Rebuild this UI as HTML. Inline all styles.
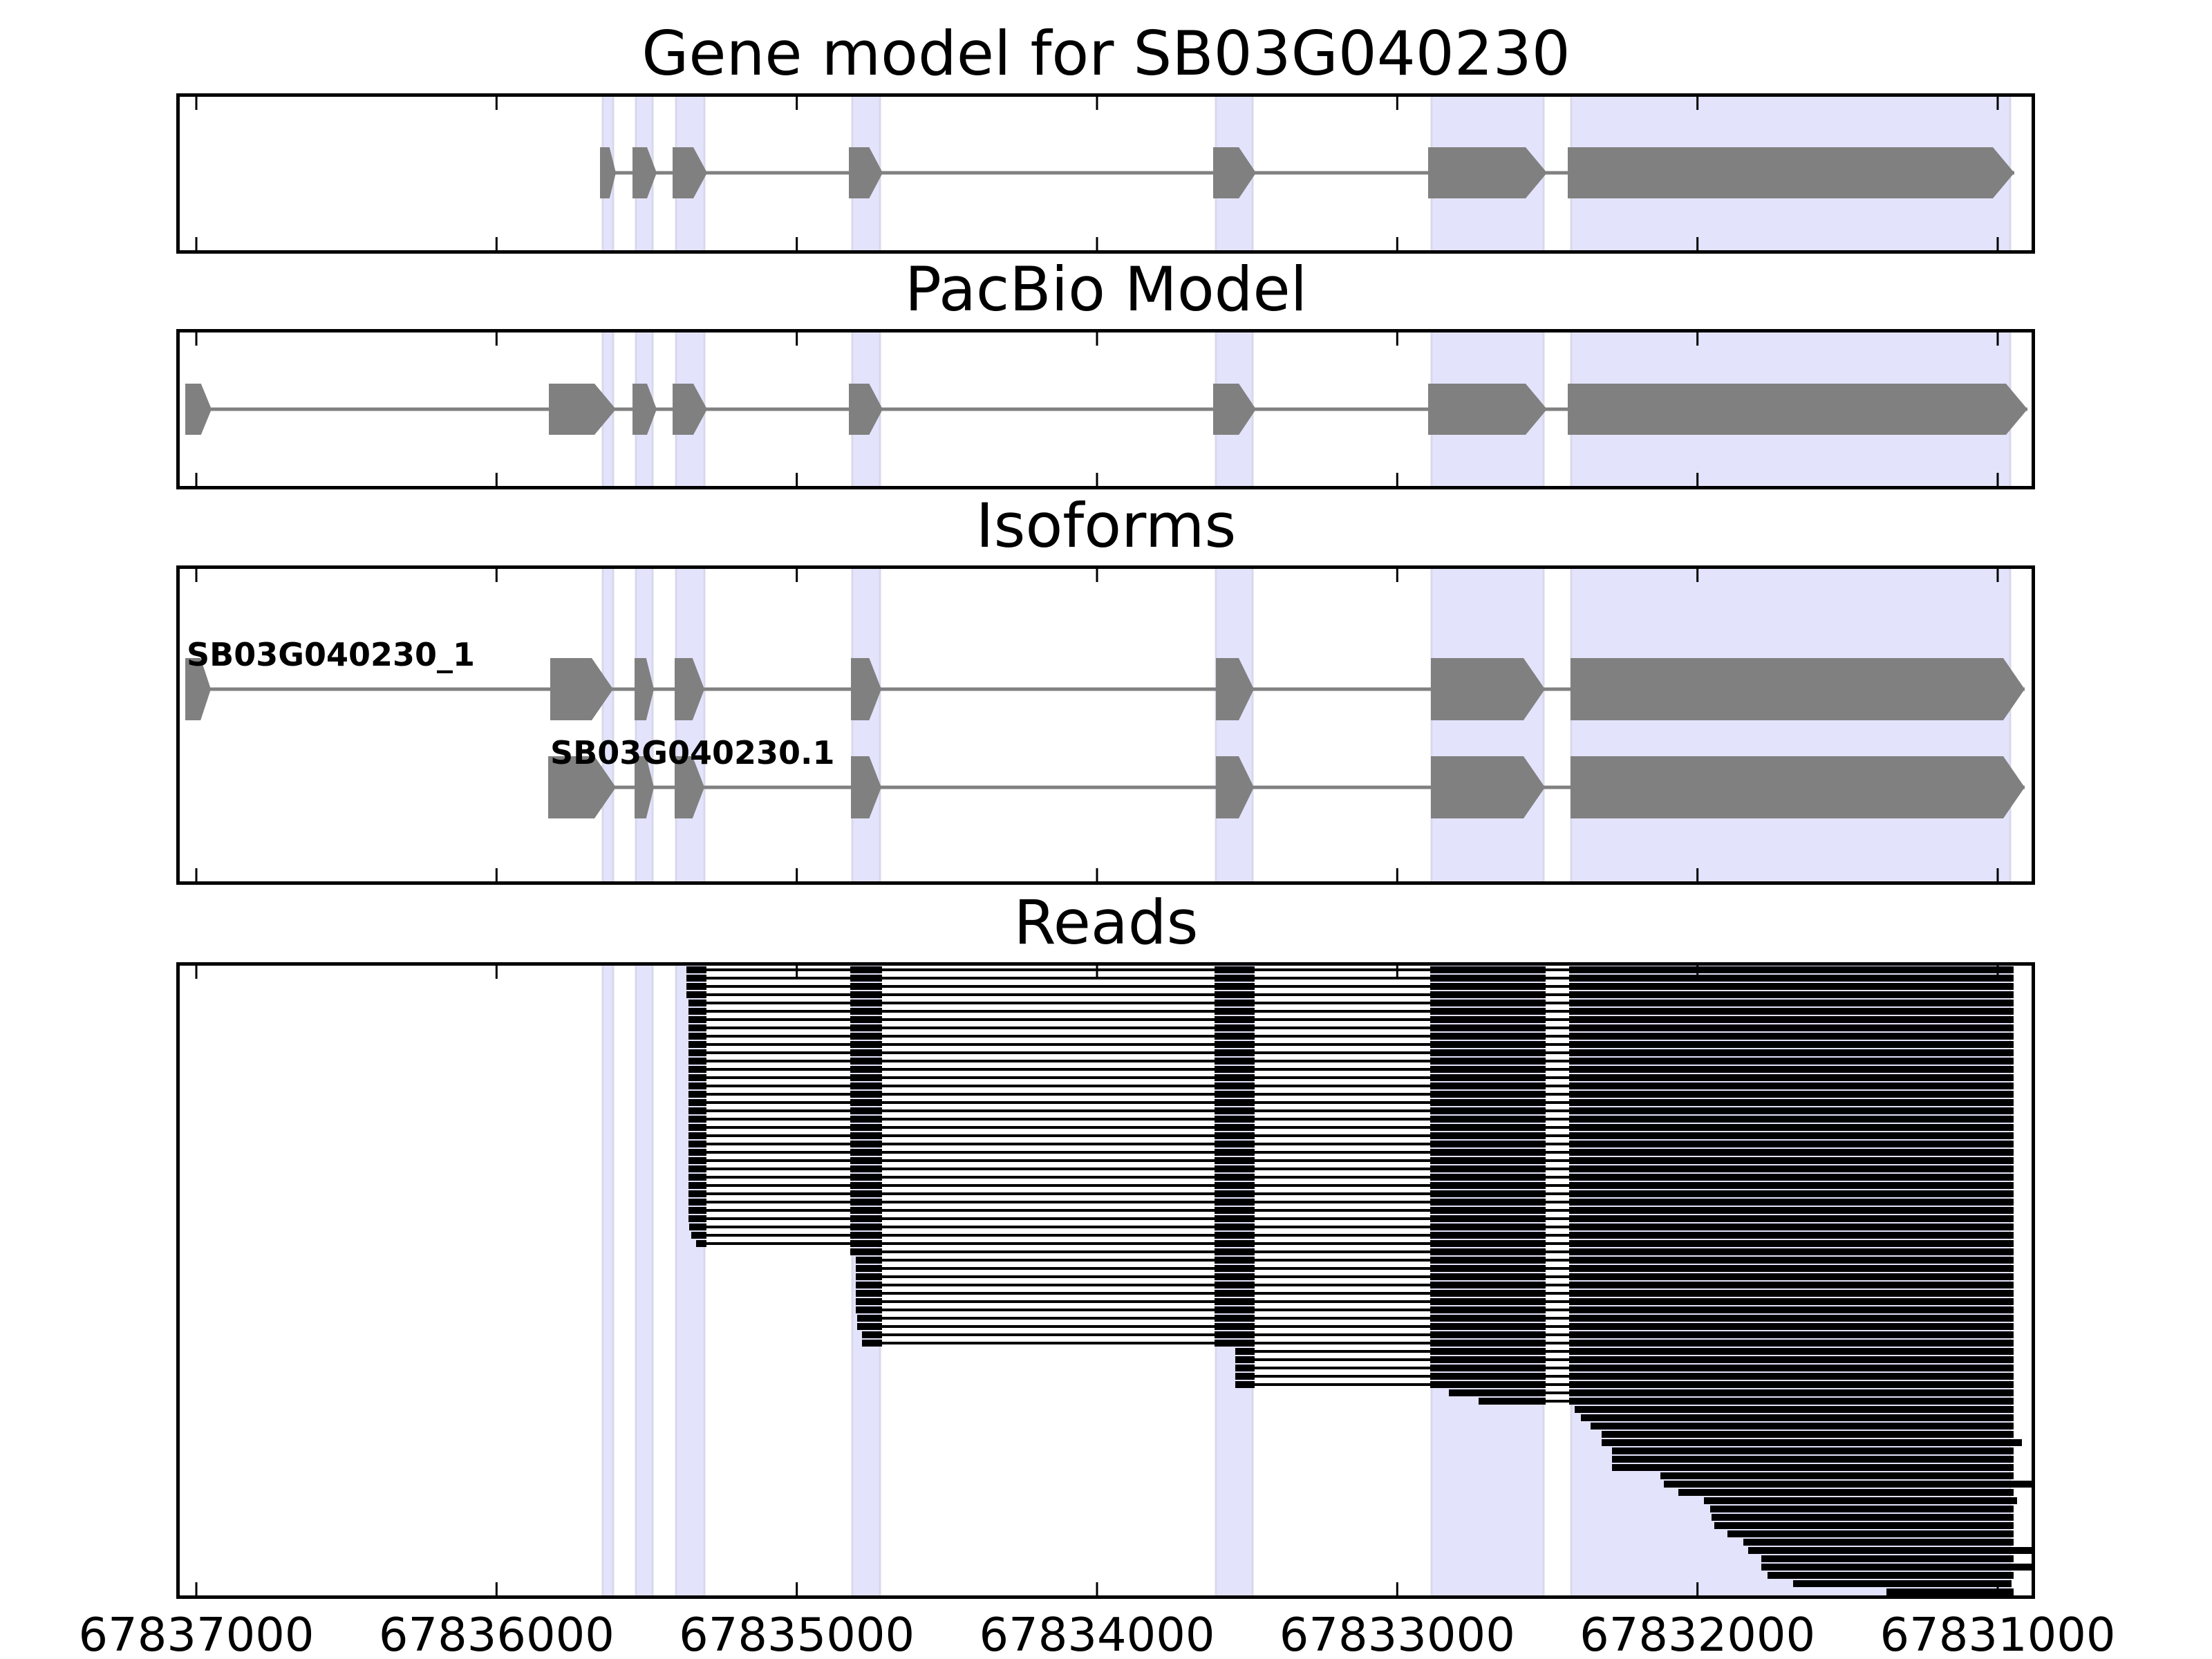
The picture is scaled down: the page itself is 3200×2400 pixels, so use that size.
<!DOCTYPE html>
<html><head><meta charset="utf-8"><style>html,body{margin:0;padding:0;background:#fff}svg{display:block}</style></head>
<body>
<svg id="s" xmlns="http://www.w3.org/2000/svg" width="3200" height="2400" viewBox="0 0 3200 2400" font-family="'DejaVu Sans','Liberation Sans',sans-serif">
</svg>
<script>
var s=document.getElementById('s');var h='';
var panels=[[135,367,'Gene model for SB03G040230'],[476,708,'PacBio Model'],[818,1280,'Isoforms'],[1392,2313,'Reads']];
var spans=[[872,887],[920,944],[978,1019],[1233,1273],[1759,1812],[2071,2233],[2273,2908]];
h+='<defs>';
panels.forEach(function(p,i){h+='<clipPath id="c'+i+'"><rect x="257" y="'+(p[0]+2)+'" width="2685" height="'+(p[1]-p[0]-4)+'"/></clipPath>';});
h+='</defs>';
panels.forEach(function(p,i){
 h+='<g clip-path="url(#c'+i+')">';
 spans.forEach(function(b){h+='<rect x="'+b[0]+'" y="'+p[0]+'" width="'+(b[1]-b[0])+'" height="'+(p[1]-p[0])+'" fill="#e3e3fc" stroke="#d8d8ec" stroke-width="3"/>';});
 h+='</g>';
});
function gene(ex,cy,hh){
 var o='<line x1="'+ex[0][0]+'" y1="'+cy+'" x2="'+ex[ex.length-1][1]+'" y2="'+cy+'" stroke="#808080" stroke-width="5"/>';
 ex.forEach(function(e){var w=e[1]-e[0];var t=Math.min(31,0.4*w);var top=cy-hh/2,bot=cy+hh/2;
  o+='<polygon points="'+e[0]+','+top+' '+(e[1]-t)+','+top+' '+e[1]+','+cy+' '+(e[1]-t)+','+bot+' '+e[0]+','+bot+'" fill="#808080"/>';});
 return o;
}
h+=gene([[868,891],[915,950],[973,1023],[1228,1277],[1755,1817],[2066,2238],[2268,2914]],250,74);
h+=gene([[268,306],[794,891],[915,950],[973,1023],[1228,1277],[1755,1817],[2066,2238],[2268,2933]],592,74);
h+=gene([[268,305],[796,887],[918,946],[976,1019],[1231,1275],[1759,1814],[2070,2235],[2272,2929]],997,90);
h+=gene([[793,891],[918,946],[976,1019],[1231,1275],[1759,1814],[2070,2235],[2272,2929]],1139,90);
h+='<text x="270" y="963" font-size="46" font-weight="bold" fill="#000">SB03G040230_1</text>';
h+='<text x="796" y="1105" font-size="46" font-weight="bold" fill="#000">SB03G040230.1</text>';
var E=[[0,1022],[1230,1276],[1757,1815],[2069,2236],[2270,0]];
var st=[2278,2287,2301,2317,2317,2332,2332,2332,2402,2407,2428,2465,2474,2476,2480,2499,2522,2529,2548,2548,2557,2594,2729];
var en=[2913,2913,2913,2913,2925,2913,2913,2913,2913,2960,2913,2918,2913,2913,2913,2913,2913,2960,2913,2960,2913,2910,2913];
var r='<g clip-path="url(#c3)">';
for(var i=0;i<76;i++){
 var y=1398+12*i,cy=y+5,start,first,end=2913;
 if(i<34){first=0;start=i<4?993:996;if(i==31)start=997;if(i==32)start=1000;if(i==33)start=1007;}
 else if(i<46){first=1;start=i==34?1230:(i<42?1238:(i<44?1240:1247));}
 else if(i<51){first=2;start=1787;}
 else if(i<53){first=3;start=i==51?2096:2139;}
 else {first=4;start=st[i-53];end=en[i-53];}
 if(first<4)r+='<rect x="'+start+'" y="'+(cy-2)+'" width="'+(end-start)+'" height="4" fill="#000"/>';
 for(var k=first;k<5;k++){var a=k==first?start:E[k][0];var b=k==4?end:E[k][1];
  r+='<rect x="'+a+'" y="'+y+'" width="'+(b-a)+'" height="10" fill="#000"/>';}
}
r+='</g>';h+=r;
panels.forEach(function(p){
 h+='<rect x="257.5" y="'+(p[0]+2.5)+'" width="2684" height="'+(p[1]-p[0]-5)+'" fill="none" stroke="#000" stroke-width="5"/>';
 for(var k=0;k<7;k++){var x=284+434.33*k;
  h+='<line x1="'+x+'" y1="'+(p[0]+4)+'" x2="'+x+'" y2="'+(p[0]+24)+'" stroke="#000" stroke-width="3"/>';
  h+='<line x1="'+x+'" y1="'+(p[1]-4)+'" x2="'+x+'" y2="'+(p[1]-24)+'" stroke="#000" stroke-width="3"/>';}
 h+='<text x="1600" y="'+(p[0]-27)+'" font-size="88" text-anchor="middle" fill="#000">'+p[2]+'</text>';
});
for(var k=0;k<7;k++){var x=284+434.33*k;h+='<text x="'+x+'" y="2388" font-size="67" text-anchor="middle" fill="#000">'+(67837000-1000*k)+'</text>';}
s.innerHTML=h;
</script>
</body></html>
